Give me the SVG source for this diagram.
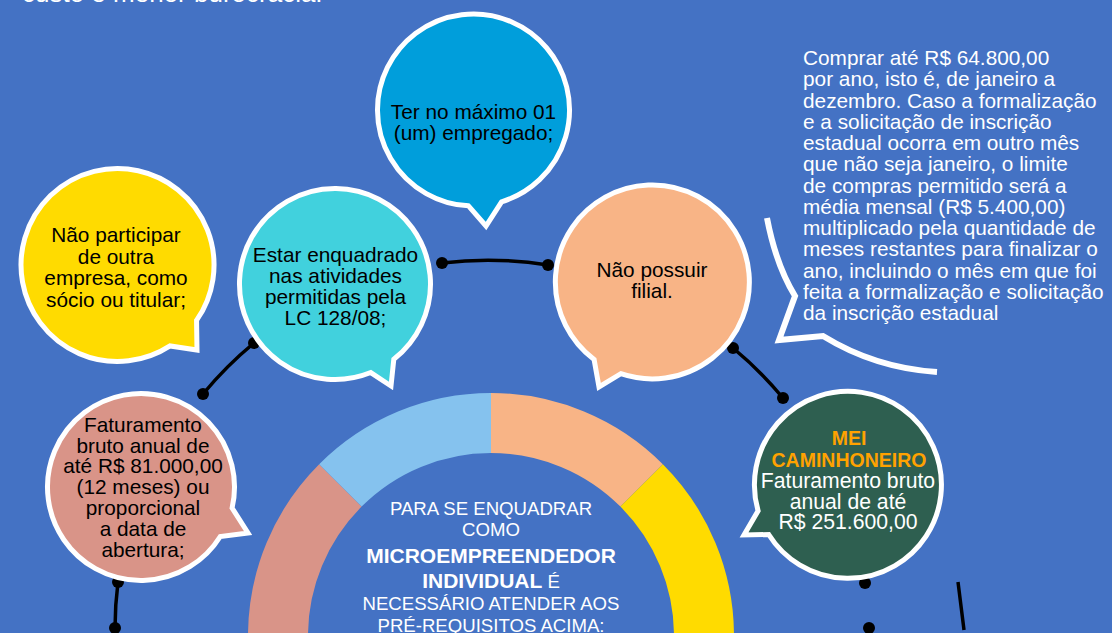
<svg xmlns="http://www.w3.org/2000/svg" width="1112" height="633" viewBox="0 0 1112 633">
<defs>
<style>
.bub{stroke:#fff;stroke-width:5;stroke-linejoin:miter}
.t{font-family:"Liberation Sans",Arial,sans-serif;font-size:20.8px;text-anchor:middle;fill:#000}
.w{fill:#fff}
.c{font-family:"Liberation Sans",Arial,sans-serif;font-size:18.6px;text-anchor:middle;fill:#fff}
.b{font-weight:bold;font-size:21px}
.conn{fill:none;stroke:#000;stroke-width:3.5}
.dot{fill:#000}
</style>
</defs>
<rect width="1112" height="633" fill="#4472C4"/>
<text x="22" y="2" style="font-family:'Liberation Sans',Arial,sans-serif;font-size:26px;fill:#fff">custo e menor burocracia.</text>

<g id="ring">
<path d="M248,636 A243,243 0 0 1 319.17,464.17 L361.6,506.6 A183,183 0 0 0 308,636 Z" fill="#D99488"/>
<path d="M319.17,464.17 A243,243 0 0 1 491,393 L491,453 A183,183 0 0 0 361.6,506.6 Z" fill="#85C2EE"/>
<path d="M491,393 A243,243 0 0 1 662.83,464.17 L620.4,506.6 A183,183 0 0 0 491,453 Z" fill="#F8B486"/>
<path d="M662.83,464.17 A243,243 0 0 1 734,636 L674,636 A183,183 0 0 0 620.4,506.6 Z" fill="#FFDB00"/>
<text class="c" x="491" y="515">PARA SE ENQUADRAR</text>
<text class="c" x="491" y="536">COMO</text>
<text class="c b" x="491" y="562.5">MICROEMPREENDEDOR</text>
<text class="c" x="491" y="588"><tspan class="b">INDIVIDUAL</tspan> É</text>
<text class="c" x="491" y="610">NECESSÁRIO ATENDER AOS</text>
<text class="c" x="491" y="631.5">PRÉ-REQUISITOS ACIMA:</text>
</g>

<g id="connectors">
<path class="conn" d="M442,263 A379,379 0 0 1 548,265"/>
<path class="conn" d="M254,343 A379,379 0 0 0 203,394"/>
<path class="conn" d="M733,348 A379,379 0 0 1 783,398"/>
<path class="conn" d="M118,582 A379,379 0 0 0 115,628"/>
<path class="conn" d="M958,582 L964,630"/>
<circle class="dot" cx="442" cy="263" r="6"/>
<circle class="dot" cx="548" cy="265" r="6"/>
<circle class="dot" cx="254" cy="343" r="6"/>
<circle class="dot" cx="203" cy="394" r="6"/>
<circle class="dot" cx="733" cy="348" r="6"/>
<circle class="dot" cx="783" cy="398" r="6"/>
<circle class="dot" cx="118" cy="582" r="6"/>
<circle class="dot" cx="115" cy="628" r="6"/>
<circle class="dot" cx="865" cy="583" r="6"/>
<circle class="dot" cx="869" cy="628" r="6"/>
</g>

<g id="bubble-empregado">
<path class="bub" fill="#009EDB" d="M501.57,201.8 A96,96 0 1 0 468.48,205.87 L486,226 Z"/>
<text class="t" x="473.5" y="119">Ter no máximo 01</text>
<text class="t" x="473.5" y="140">(um) empregado;</text>
</g>

<g id="bubble-participar">
<path class="bub" fill="#FFDB00" d="M196.55,320.35 A96.5,96.5 0 1 0 170.05,345.93 L197,350 Z"/>
<text class="t" x="116" y="242">Não participar</text>
<text class="t" x="116" y="263.5">de outra</text>
<text class="t" x="116" y="285">empresa, como</text>
<text class="t" x="116" y="306.5">sócio ou titular;</text>
</g>

<g id="bubble-atividades">
<path class="bub" fill="#41D1DD" d="M393.8,359.25 A95.5,95.5 0 1 0 370.77,372.55 L391,386 Z"/>
<text class="t" x="335.5" y="262">Estar enquadrado</text>
<text class="t" x="335.5" y="283">nas atividades</text>
<text class="t" x="335.5" y="304">permitidas pela</text>
<text class="t" x="335.5" y="325">LC 128/08;</text>
</g>

<g id="bubble-filial">
<path class="bub" fill="#F8B486" d="M620.9,373.7 A97,97 0 1 0 594.1,359.5 L599,387 Z"/>
<text class="t" x="652" y="277">Não possuir</text>
<text class="t" x="652" y="298">filial.</text>
</g>

<g id="bubble-faturamento">
<path class="bub" fill="#D99488" d="M232.1,508 A93.5,93.5 0 1 0 220.3,536.5 L248,533 Z"/>
<text class="t" x="143" y="431.7">Faturamento</text>
<text class="t" x="143" y="452.5">bruto anual de</text>
<text class="t" x="143" y="473.4">até R$ 81.000,00</text>
<text class="t" x="143" y="494.2">(12 meses) ou</text>
<text class="t" x="143" y="515">proporcional</text>
<text class="t" x="143" y="535.9">a data de</text>
<text class="t" x="143" y="556.7">abertura;</text>
</g>

<g id="bubble-caminhoneiro">
<path class="bub" fill="#2E5F50" d="M768.7,534.5 A93.5,93.5 0 1 0 758.1,510.8 L744,535 Z"/>
<text class="t" x="849" y="445" style="font-weight:bold;font-size:19.5px;fill:#FFA200">MEI</text>
<text class="t" x="849" y="467" style="font-weight:bold;font-size:19.5px;fill:#FFA200">CAMINHONEIRO</text>
<text class="t w" x="848" y="488" style="font-size:21.2px">Faturamento bruto</text>
<text class="t w" x="848" y="508.5" style="font-size:21.2px">anual de até</text>
<text class="t w" x="848" y="529" style="font-size:21.2px">R$ 251.600,00</text>
</g>

<g id="bubble-compras">
<path d="M767,218 Q776,265 795,296 L779,340 L823,336 Q875,368 937,372" fill="none" stroke="#fff" stroke-width="6" stroke-linejoin="miter"/>
<g style="font-family:'Liberation Sans',Arial,sans-serif;font-size:20.8px;fill:#fff">
<text x="803" y="65">Comprar até R$ 64.800,00</text>
<text x="803" y="86.25">por ano, isto é, de janeiro a</text>
<text x="803" y="107.5">dezembro. Caso a formalização</text>
<text x="803" y="128.75">e a solicitação de inscrição</text>
<text x="803" y="150">estadual ocorra em outro mês</text>
<text x="803" y="171.25">que não seja janeiro, o limite</text>
<text x="803" y="192.5">de compras permitido será a</text>
<text x="803" y="213.75">média mensal (R$ 5.400,00)</text>
<text x="803" y="235">multiplicado pela quantidade de</text>
<text x="803" y="256.25">meses restantes para finalizar o</text>
<text x="803" y="277.5">ano, incluindo o mês em que foi</text>
<text x="803" y="298.75">feita a formalização e solicitação</text>
<text x="803" y="320">da inscrição estadual</text>
</g>
</g>
</svg>
